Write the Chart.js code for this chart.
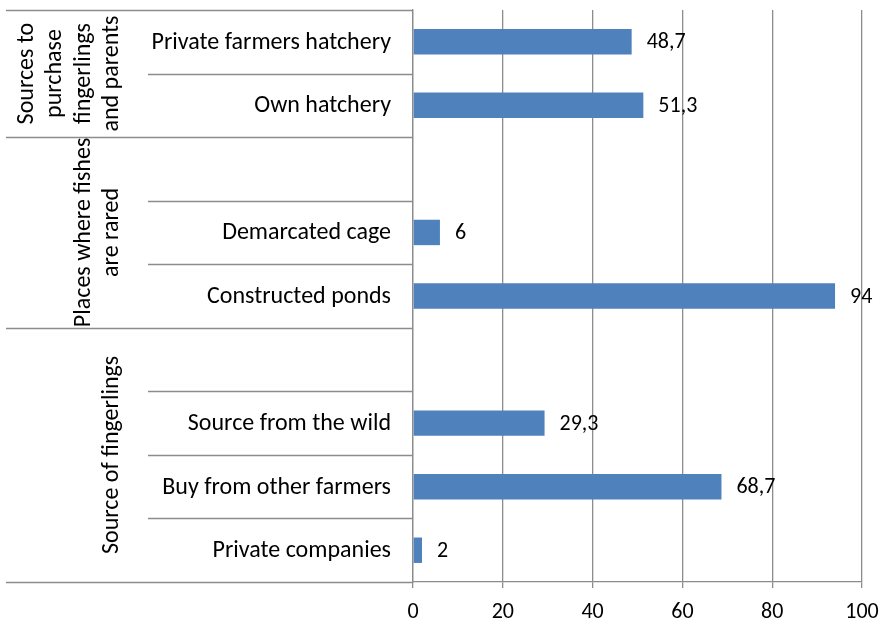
<!DOCTYPE html>
<html>
<head>
<meta charset="utf-8">
<script src="https://cdn.jsdelivr.net/npm/chart.js@4"></script>
<style>
  html, body { margin: 0; padding: 0; background: #ffffff; }
  #wrap { width: 882px; height: 622px; position: relative; }
</style>
</head>
<body>
<div id="wrap"><canvas id="c" width="882" height="622"></canvas></div>
<script>
// ---- data (top to bottom) ----
const categories = [
  "Private farmers hatchery", "Own hatchery", "",
  "Demarcated cage", "Constructed ponds", "",
  "Source from the wild", "Buy from other farmers", "Private companies"
];
const values = [48.7, 51.3, null, 6, 94, null, 29.3, 68.7, 2];
const groupNames = [
  ["Sources to", "purchase", "fingerlings", "and parents"],
  ["Places where fishes", "are rared"],
  ["Source of fingerlings"]
];
const groupSizes = [2, 3, 4];
const xTicks = [0, 20, 40, 60, 80, 100];

const FONT = "Carlito, Lato, 'Liberation Sans', sans-serif";
const LINE = "#8c8c8c";

const tablePlugin = {
  id: "tablePlugin",
  afterDraw(chart) {
    const ctx = chart.ctx;
    const y = chart.scales.y;
    const axisX = chart.chartArea.left;
    const n = categories.length;
    const b = k => y.getPixelForValue(k - 0.5);
    const starts = [];
    let s = 0;
    groupSizes.forEach(g => { starts.push(s); s += g; });
    const groupBounds = new Set(starts.concat([n]));
    ctx.save();
    ctx.strokeStyle = LINE;
    ctx.lineWidth = 1.3;
    for (let k = 0; k <= n; k++) {
      const py = Math.round(b(k)) + 0.5;
      const x0 = groupBounds.has(k) ? 6 : 148;
      ctx.beginPath();
      ctx.moveTo(x0, py);
      ctx.lineTo(axisX, py);
      ctx.stroke();
    }
    ctx.fillStyle = "#000";
    // category labels
    ctx.font = "24px " + FONT;
    ctx.textAlign = "right";
    ctx.textBaseline = "middle";
    categories.forEach((t, i) => {
      if (!t) return;
      ctx.fillText(t, 391, y.getPixelForValue(i) + 1);
    });
    // group labels
    ctx.textAlign = "center";
    const lh = 28.5;
    groupNames.forEach((lines, gi) => {
      const cy = (b(starts[gi]) + b(starts[gi] + groupSizes[gi])) / 2;
      lines.forEach((t, li) => {
        const cx = 112 - (lines.length - 1 - li) * lh;
        ctx.save();
        ctx.translate(cx, cy);
        ctx.rotate(-Math.PI / 2);
        ctx.fillText(t, 0, 0);
        ctx.restore();
      });
    });
    // value labels
    const meta = chart.getDatasetMeta(0);
    ctx.font = "22px " + FONT;
    ctx.textAlign = "left";
    meta.data.forEach((el, i) => {
      const v = values[i];
      if (v === null || v === undefined) return;
      ctx.fillText(String(v).replace(".", ","), el.x + 15, el.y + 1);
    });
    ctx.restore();
  }
};

new Chart(document.getElementById("c"), {
  type: "bar",
  data: {
    labels: categories,
    datasets: [{
      data: values,
      backgroundColor: "#4f81bd",
      borderWidth: 0,
      barPercentage: 0.4,
      categoryPercentage: 1.0
    }]
  },
  options: {
    indexAxis: "y",
    responsive: false,
    animation: false,
    devicePixelRatio: 1,
    layout: { padding: { top: 10, right: 20, left: 0, bottom: 0 } },
    plugins: { legend: { display: false }, tooltip: { enabled: false } },
    scales: {
      x: {
        min: 0, max: 100,
        afterBuildTicks(scale) { scale.ticks = xTicks.map(v => ({ value: v })); },
        afterFit(scale) { scale.height = 40; scale.paddingLeft = 0; scale.paddingRight = 0; },
        grid: { color: LINE, lineWidth: 1.3, tickLength: 6, drawTicks: true },
        border: { display: true, color: LINE, width: 1.3 },
        ticks: { color: "#000", font: { family: FONT, size: 22 }, padding: 11, maxRotation: 0 }
      },
      y: {
        offset: true,
        afterFit(scale) { scale.width = 413; scale.paddingTop = 0; scale.paddingBottom = 0; },
        grid: { display: false, drawTicks: false },
        border: { display: true, color: LINE, width: 1.3 },
        ticks: { display: false }
      }
    }
  },
  plugins: [tablePlugin]
});
</script>
</body>
</html>
